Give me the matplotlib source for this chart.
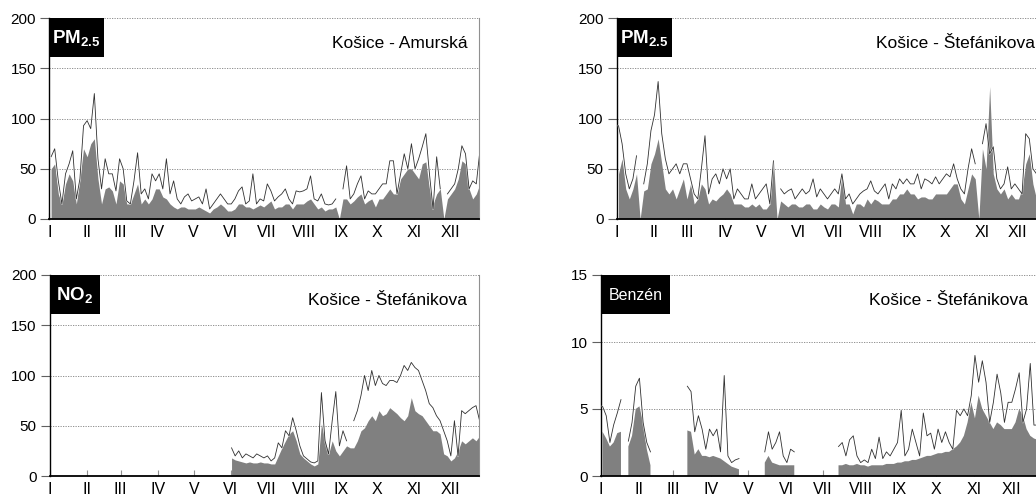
import numpy as np
import matplotlib
matplotlib.use("Agg")
import matplotlib.pyplot as plt
from matplotlib.patches import Rectangle
import matplotlib.patheffects as pe

plt.rcParams["font.family"] = ["Liberation Sans", "DejaVu Sans"]
plt.rcParams["mathtext.fontset"] = "custom"
plt.rcParams["mathtext.rm"] = "Liberation Sans"
plt.rcParams["mathtext.bf"] = "Liberation Sans:bold"

nan = np.nan

# one value every 3 days (day 0, 3, 6, ... 357), 10 values per row ~ one month
months = ["I", "II", "III", "IV", "V", "VI", "VII", "VIII", "IX", "X", "XI", "XII"]
month_start = [0, 31, 59, 90, 120, 151, 181, 212, 243, 273, 304, 334]

# --- PM2.5 Kosice - Amurska: gray = daily mean, line = max
pm_amur_mean = [
    50, 55, 25, 15, 35, 45, 38, 15, 40, 70,
    62, 75, 80, 40, 15, 30, 32, 28, 15, 38,
    35, 15, 15, 25, 35, 15, 20, 15, 20, 30,
    30, 22, 20, 15, 12, 10, 12, 12, 10, 10,
    10, 12, 10, 8, 6, 10, 12, 15, 12, 8,
    8, 10, 15, 15, 12, 12, 10, 12, 14, 12,
    15, 18, 10, 12, 12, 15, 15, 10, 15, 15,
    15, 18, 20, 15, 10, 12, 8, 10, 10, 12,
    0, 20, 20, 15, 18, 22, 25, 15, 18, 20,
    12, 20, 20, 25, 30, 25, 25, 40, 45, 50,
    50, 45, 40, 55, 57, 30, 15, 25, 30, 0,
    20, 25, 30, 40, 58, 55, 30, 20, 25, 35,
]
pm_amur_max = [
    62, 70, 38, 15, 45, 55, 68, 20, 40, 93,
    98, 90, 125, 60, 30, 60, 45, 45, 28, 60,
    50, 18, 15, 38, 66, 25, 30, 20, 45, 38,
    45, 30, 60, 25, 38, 20, 15, 22, 25, 18,
    20, 22, 15, 30, 10, 15, 20, 25, 20, 15,
    15, 20, 28, 32, 15, 18, 45, 15, 20, 18,
    35, 28, 18, 22, 25, 30, 20, 15, 28, 27,
    28, 30, 43, 20, 18, 25, 15, 14, 15, 20,
    nan, 30, 53, 20, 25, 35, 43, 20, 28, 25,
    25, 30, 35, 35, 58, 58, 25, 45, 65, 50,
    75, 50, 60, 72, 85, 45, 10, 62, 30, nan,
    25, 30, 35, 50, 73, 65, 30, 38, 35, 68,
]

# --- PM2.5 Kosice - Stefanikova
pm_stef_mean = [
    45, 60, 30, 20, 30, 45, 0, 28, 30, 55,
    65, 80, 55, 30, 25, 30, 20, 30, 40, 20,
    35, 15, 20, 35, 30, 15, 20, 18, 22, 25,
    30, 25, 15, 15, 15, 12, 12, 15, 12, 15,
    10, 10, 15, 58, 0, 18, 15, 12, 15, 15,
    12, 12, 15, 15, 10, 10, 15, 12, 10, 15,
    15, 12, 45, 15, 15, 5, 15, 15, 12, 20,
    15, 20, 18, 15, 15, 15, 20, 20, 25, 25,
    30, 25, 25, 20, 22, 22, 20, 20, 25, 25,
    25, 25, 30, 35, 35, 20, 15, 30, 45, 40,
    0, 70, 50, 132, 45, 30, 25, 30, 20, 25,
    20, 20, 30, 55, 65, 35, 20, 20, 20, 20,
]
pm_stef_max = [
    93, 75, 45, 30, 40, 63, nan, 35, 55, 88,
    104, 137, 85, 60, 45, 50, 55, 45, 55, 55,
    40, 25, 20, 50, 83, 25, 40, 45, 35, 50,
    40, 50, 20, 30, 25, 20, 20, 35, 20, 25,
    30, 35, 15, 58, nan, 30, 25, 28, 30, 20,
    25, 30, 25, 28, 40, 22, 30, 25, 20, 25,
    30, 25, 45, 20, 25, 15, 20, 25, 28, 30,
    38, 28, 25, 30, 35, 20, 35, 30, 40, 35,
    40, 35, 35, 45, 30, 40, 38, 35, 42, 35,
    40, 45, 42, 55, 40, 30, 25, 50, 70, 55,
    nan, 75, 95, 65, 72, 40, 30, 35, 52, 30,
    35, 30, 25, 85, 80, 50, 45, 30, 30, 30,
]

# --- NO2 Kosice - Stefanikova (measured only from June)
no2_mean = [nan] * 50 + [
    18, 16, 15, 14, 13, 14, 13, 13, 14, 13,
    13, 12, 12, 20, 28, 35, 42, 45, 35, 22,
    18, 15, 12, 10, 12, 52, 35, 22, 35, 25,
    20, 25, 30, 28, 28, 35, 45, 48, 55, 60,
    55, 65, 60, 62, 68, 65, 62, 58, 55, 60,
    78, 65, 62, 60, 55, 50, 45, 45, 42, 22,
    20, 15, 18, 25, 35, 32, 35, 38, 35, 40,
]
no2_max = [nan] * 50 + [
    28, 20, 25, 18, 22, 20, 18, 22, 20, 18,
    20, 15, 18, 33, 28, 45, 40, 58, 45, 30,
    20, 17, 14, 13, 15, 83, 35, 22, 55, 84,
    30, 45, 35, nan, 55, 65, 80, 100, 85, 105,
    90, 100, 92, 90, 95, 95, 93, 100, 110, 105,
    113, 108, 105, 95, 85, 72, 68, 60, 55, 45,
    35, 20, 55, 20, 65, 62, 65, 68, 70, 55,
]

# --- Benzen Kosice - Stefanikova
benz_mean = [
    3.3, 2.8, 2.2, 2.5, 3.2, 3.3, nan, 2.2, 3.0, 5.0,
    5.2, 4.0, 2.0, 0.8, nan, nan, nan, nan, nan, nan,
    nan, nan, nan, 3.4, 3.3, 1.6, 2.0, 1.5, 1.5, 1.4,
    1.5, 1.4, 1.3, 1.1, 0.9, 0.7, 0.6, 0.5, nan, nan,
    nan, nan, nan, nan, 1.0, 1.5, 1.0, 0.9, 0.8, 0.8,
    0.8, 0.8, 0.8, nan, nan, nan, nan, nan, nan, nan,
    nan, nan, nan, nan, 0.8, 0.8, 0.9, 0.8, 0.8, 0.9,
    0.8, 0.8, 0.7, 0.8, 0.8, 0.8, 0.8, 0.9, 0.9, 0.9,
    1.0, 1.0, 1.1, 1.1, 1.2, 1.2, 1.3, 1.4, 1.5, 1.5,
    1.6, 1.7, 1.7, 1.8, 1.8, 2.0, 2.2, 2.5, 3.0, 4.0,
    5.5, 4.3, 6.0, 5.0, 4.5, 4.0, 3.5, 4.0, 3.8, 3.5,
    3.5, 3.5, 4.0, 5.0, 4.5, 3.5, 3.0, 2.8, 2.7, 2.7,
]
benz_max = [
    5.2, 4.5, 2.5, 3.8, 4.7, 5.7, nan, 2.6, 4.0, 6.7,
    7.3, 4.0, 2.5, 1.8, nan, nan, nan, nan, nan, nan,
    nan, nan, nan, 6.7, 6.3, 3.3, 4.5, 3.5, 2.0, 3.5,
    3.0, 3.5, 1.8, 7.5, 1.5, 1.0, 1.2, 1.3, nan, nan,
    nan, nan, nan, nan, 1.8, 3.3, 2.0, 2.5, 3.3, 1.5,
    1.0, 2.0, 1.8, nan, nan, nan, nan, nan, nan, nan,
    nan, nan, nan, nan, 2.2, 2.5, 1.5, 2.7, 3.0, 1.5,
    1.0, 1.2, 1.0, 2.0, 1.3, 2.9, 1.3, 1.8, 1.5, 2.0,
    2.5, 4.9, 1.5, 2.0, 3.5, 2.5, 1.5, 4.7, 3.0, 3.2,
    2.0, 3.5, 2.5, 3.3, 2.5, 2.0, 4.9, 4.5, 5.0, 4.5,
    6.0, 9.0, 7.0, 8.6, 7.0, 4.0, 5.5, 7.6, 6.2, 4.0,
    5.5, 5.5, 6.5, 7.7, 4.0, 5.0, 8.4, 3.8, 3.8, 3.5,
]

days = np.arange(len(pm_amur_mean)) * 3 + 1.5

W, H = 1036, 495
fig = plt.figure(figsize=(W / 100, H / 100), dpi=100)


def px_axes(left, top, width, height):
    return fig.add_axes([left / W, 1 - (top + height) / H, width / W, height / H])


def panel(ax, mean, peak, ymax, step, label, station, box_w, bold=True):
    mean = np.array(mean, dtype=float)
    ok = ~np.isnan(mean)
    ax.fill_between(days, 0, np.nan_to_num(mean), where=ok, interpolate=False,
                    color="#808080", linewidth=0, zorder=2)
    ax.plot(days, peak, color="#303030", lw=0.6, zorder=3,
            path_effects=[pe.Stroke(linewidth=1.4, foreground="white", alpha=0.6), pe.Normal()])
    ax.set_xlim(0, 358)
    ax.set_ylim(0, ymax)
    ax.set_yticks(np.arange(0, ymax + 0.1, step))
    ax.yaxis.grid(True, linestyle=(0, (1.5, 1.5)), color="#808080", lw=0.6)
    ax.set_axisbelow(True)
    ax.set_xticks(month_start)
    ax.set_xticklabels(months)
    ax.tick_params(axis="x", direction="in", length=4, color="#909090", pad=4.5, labelsize=11.5)
    ax.tick_params(axis="y", direction="out", length=6.5, color="#606060", pad=3, labelsize=11)
    ax.spines["top"].set_visible(False)
    ax.spines["right"].set_color("#909090")
    ax.spines["right"].set_linewidth(0.8)
    ax.spines["left"].set_linewidth(1.0)
    ax.spines["bottom"].set_linewidth(1.3)
    ax.add_patch(Rectangle((0, 0.808), box_w, 0.192, transform=ax.transAxes,
                           facecolor="black", edgecolor="none", zorder=5, clip_on=False))
    ax.text(box_w / 2, 0.9, label, transform=ax.transAxes, color="white",
            ha="center", va="center", fontsize=13.5 if bold else 11.5,
            fontweight="bold" if bold else "normal", zorder=6)
    ax.text(0.972, 0.872, station, transform=ax.transAxes, ha="right", va="center",
            fontsize=12.5, zorder=6)


ax1 = px_axes(49.3, 18.3, 430, 200.7)
panel(ax1, pm_amur_mean, pm_amur_max, 200, 50, r"$\mathbf{PM_{2.5}}$", "Košice - Amurská", 0.127)

ax2 = px_axes(616.7, 18.3, 430, 200.7)
panel(ax2, pm_stef_mean, pm_stef_max, 200, 50, r"$\mathbf{PM_{2.5}}$", "Košice - Štefánikova", 0.1286)

ax3 = px_axes(50, 275, 429, 201)
panel(ax3, no2_mean, no2_max, 200, 50, r"$\mathbf{NO_2}$", "Košice - Štefánikova", 0.1166)

ax4 = px_axes(600.7, 275, 440, 201)
panel(ax4, benz_mean, benz_max, 15, 5, "Benzén", "Košice - Štefánikova", 0.1575, bold=False)

fig.savefig("out.png", dpi=100)
